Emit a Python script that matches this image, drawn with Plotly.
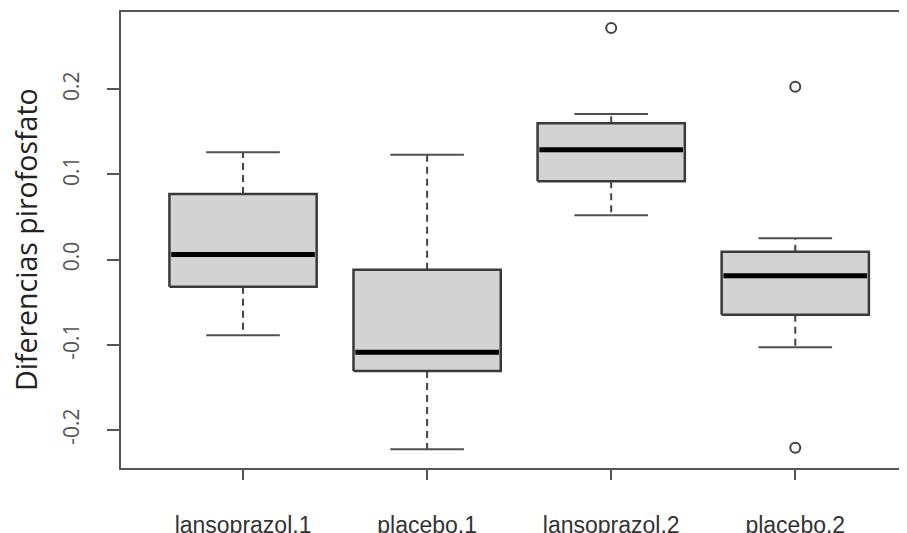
import plotly.graph_objects as go

categories = ["lansoprazol.1", "placebo.1", "lansoprazol.2", "placebo.2"]
positions = [1, 2, 3, 4]
upper_whisker = [0.126, 0.123, 0.171, 0.025]
q3 = [0.077, -0.012, 0.160, 0.009]
median = [0.006, -0.109, 0.129, -0.019]
q1 = [-0.032, -0.131, 0.092, -0.065]
lower_whisker = [-0.089, -0.223, 0.052, -0.103]
outlier_x = [3, 4, 4]
outlier_y = [0.272, 0.203, -0.221]
y_ticks = [-0.2, -0.1, 0.0, 0.1, 0.2]
y_ticklabels = ["-0.2", "-0.1", "0.0", "0.1", "0.2"]
y_title = "Diferencias pirofosfato"

BOX_HALF = 0.4
CAP_HALF = 0.2

fig = go.Figure()

for i, p in enumerate(positions):
    # dashed whiskers
    fig.add_trace(go.Scatter(
        x=[p, p, None, p, p],
        y=[q3[i], upper_whisker[i], None, q1[i], lower_whisker[i]],
        mode="lines", line=dict(color="#444444", width=2, dash="7px,5px"),
        hoverinfo="skip", showlegend=False))
    # caps
    fig.add_trace(go.Scatter(
        x=[p - CAP_HALF, p + CAP_HALF, None, p - CAP_HALF, p + CAP_HALF],
        y=[upper_whisker[i], upper_whisker[i], None, lower_whisker[i], lower_whisker[i]],
        mode="lines", line=dict(color="#505050", width=2),
        hoverinfo="skip", showlegend=False))
    # box
    fig.add_trace(go.Scatter(
        x=[p - BOX_HALF, p + BOX_HALF, p + BOX_HALF, p - BOX_HALF, p - BOX_HALF],
        y=[q1[i], q1[i], q3[i], q3[i], q1[i]],
        mode="lines", fill="toself", fillcolor="#d3d3d3",
        line=dict(color="#3a3a3a", width=2.5),
        hoverinfo="skip", showlegend=False))
    # median
    fig.add_trace(go.Scatter(
        x=[p - BOX_HALF + 0.01, p + BOX_HALF - 0.01],
        y=[median[i], median[i]],
        mode="lines", line=dict(color="#000000", width=5),
        hoverinfo="skip", showlegend=False))

fig.add_trace(go.Scatter(
    x=outlier_x, y=outlier_y, mode="markers",
    marker=dict(symbol="circle-open", size=10, color="#444444", line=dict(width=2)),
    hoverinfo="skip", showlegend=False))

fig.update_layout(
    width=899, height=525,
    margin=dict(l=113, r=0, t=4, b=65, autoexpand=False),
    paper_bgcolor="white", plot_bgcolor="white",
    showlegend=False,
    xaxis=dict(
        range=[0.337, 4.607], tickmode="array", tickvals=positions, ticktext=categories,
        showgrid=False, zeroline=False, showline=True, mirror=True,
        linecolor="#555555", linewidth=2, automargin=False,
        ticks="outside", ticklen=10, tickwidth=2, tickcolor="#555555",
        tickfont=dict(family="Liberation Sans, Arial", size=23, color="#333333"),
        ticklabelstandoff=25,
    ),
    yaxis=dict(
        range=[-0.2449, 0.2908], tickmode="array", tickvals=y_ticks, ticktext=y_ticklabels,
        showgrid=False, zeroline=False, showline=True, mirror=False,
        linecolor="#555555", linewidth=2, automargin=False,
        ticks="outside", ticklen=12, tickwidth=2, tickcolor="#555555",
        tickangle=-90,
        tickfont=dict(family="Open Sans", size=21, color="#555555"),
        ticklabelstandoff=20,
    ),
    annotations=[dict(
        text=y_title, textangle=-90, xref="paper", yref="paper",
        x=(18 - 113) / 786, y=0.5, xanchor="center", yanchor="middle",
        showarrow=False, font=dict(family="Open Sans", size=28.5, color="#222222"))],
)

fig.write_html("out.html")
